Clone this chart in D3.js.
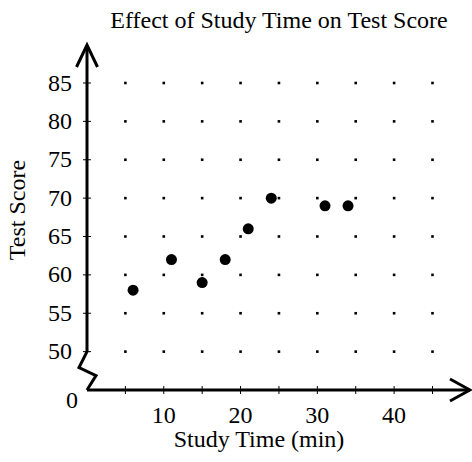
<!DOCTYPE html>
<html>
<head>
<meta charset="utf-8">
<script src="https://cdn.jsdelivr.net/npm/d3@7"></script>
<style>
  html, body { margin: 0; padding: 0; background: #fff; }
  svg { display: block; }
  text { font-family: "Liberation Serif", "Times New Roman", serif; fill: #000; }
</style>
</head>
<body>
<svg id="chart" width="472" height="462"></svg>
<script>
// ---- data ----
const studyTime = [6, 11, 15, 18, 21, 24, 31, 34];
const testScore = [58, 62, 59, 62, 66, 70, 69, 69];
const xTickValues = [5, 10, 15, 20, 25, 30, 35, 40, 45];
const xTickLabels = [10, 20, 30, 40];
const yTickValues = [50, 55, 60, 65, 70, 75, 80, 85];
const title = "Effect of Study Time on Test Score";
const xTitle = "Study Time (min)";
const yTitle = "Test Score";

// ---- layout ----
const svg = d3.select("#chart");
const fs = 24;
const x = d3.scaleLinear().domain([0, 45]).range([87, 432.5]);
const y = d3.scaleLinear().domain([45, 85]).range([390, 83]); // 45 = broken-axis origin (0)
const x0 = x(0), y0 = y(45);

// grid dots
const dots = [];
yTickValues.forEach(v => xTickValues.forEach(u => dots.push([u, v])));
svg.append("g").selectAll("rect").data(dots).join("rect")
  .attr("x", d => x(d[0]) - 1.3).attr("y", d => y(d[1]) - 1.3)
  .attr("width", 2.6).attr("height", 2.6).attr("fill", "#000");

// axes lines
const axisG = svg.append("g").attr("fill", "none").attr("stroke", "#000")
  .attr("stroke-width", 3).attr("stroke-linejoin", "miter");
// y axis with break
axisG.append("path").attr("d", d3.line()([
  [x0, 45], [x0, y(50)], [x0 - 8, y(50) + 16], [x0 + 9, y(50) + 24], [x0, y0]
]));
// y arrow head
axisG.append("path").attr("d", d3.line()([[x0 - 10.5, 67], [x0, 45], [x0 + 10.5, 67]]));
// x axis
axisG.append("path").attr("d", d3.line()([[x0, y0], [470, y0]]));
axisG.append("path").attr("d", d3.line()([[450, y0 - 11], [470, y0], [450, y0 + 11]]));

// tick marks
const tickG = svg.append("g").attr("stroke", "#000").attr("stroke-width", 1);
tickG.selectAll(".yt").data(yTickValues).join("line")
  .attr("x1", x0 - 4).attr("x2", x0 + 4)
  .attr("y1", d => y(d)).attr("y2", d => y(d));
tickG.selectAll(".xt").data(xTickValues).join("line")
  .attr("y1", y0 - 4).attr("y2", y0 + 4)
  .attr("x1", d => x(d)).attr("x2", d => x(d));

// tick labels
svg.append("g").selectAll("text").data(yTickValues).join("text")
  .attr("x", 72).attr("y", d => y(d) + 7.5)
  .attr("text-anchor", "end").attr("font-size", fs).text(d => d);
svg.append("text").attr("x", 78).attr("y", y0 + 18)
  .attr("text-anchor", "end").attr("font-size", fs).text("0");
svg.append("g").selectAll("text").data(xTickLabels).join("text")
  .attr("x", d => x(d)).attr("y", 423)
  .attr("text-anchor", "middle").attr("font-size", fs).text(d => d);

// points
svg.append("g").selectAll("circle").data(studyTime.map((t, i) => [t, testScore[i]])).join("circle")
  .attr("cx", d => x(d[0])).attr("cy", d => y(d[1])).attr("r", 5.5).attr("fill", "#000");

// titles
svg.append("text").attr("x", 279).attr("y", 28).attr("text-anchor", "middle")
  .attr("font-size", fs).text(title);
svg.append("text").attr("x", 259).attr("y", 447).attr("text-anchor", "middle")
  .attr("font-size", fs).text(xTitle);
svg.append("text").attr("transform", "translate(25,210) rotate(-90)")
  .attr("text-anchor", "middle").attr("font-size", fs).text(yTitle);
</script>
</body>
</html>
